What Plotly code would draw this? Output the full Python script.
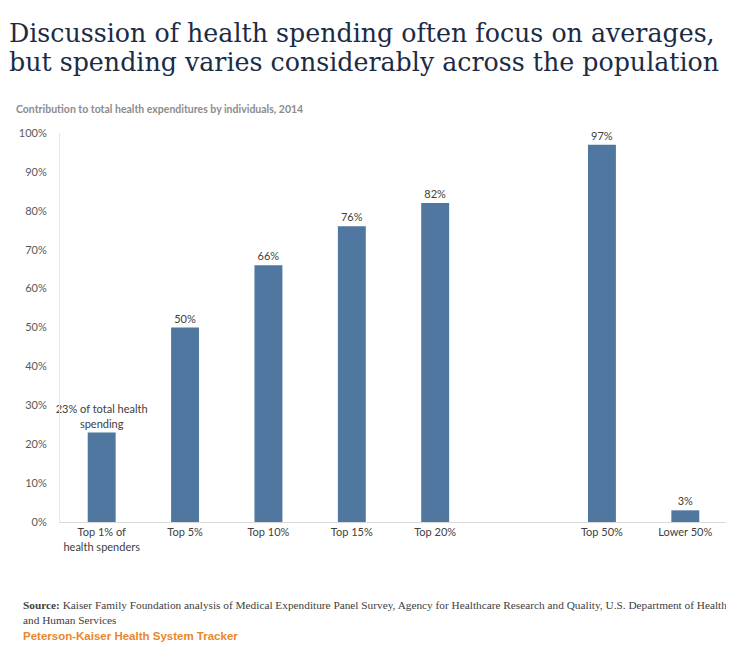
import plotly.graph_objects as go

categories = ["Top 1% of<br>health spenders", "Top 5%", "Top 10%", "Top 15%", "Top 20%", " ", "Top 50%", "Lower 50%"]
values = [23, 50, 66, 76, 82, None, 97, 3]
labels = ["23% of total health<br>spending", "50%", "66%", "76%", "82%", "", "97%", "3%"]

title_lines = ["Discussion of health spending often focus on averages,",
               "but spending varies considerably across the population"]
subtitle_text = "Contribution to total health expenditures by individuals, 2014"
source_text = ("<b>Source:</b> Kaiser Family Foundation analysis of Medical Expenditure Panel Survey, Agency for Healthcare Research and Quality, U.S. Department of Health<br>"
               "and Human Services")
brand_text = "Peterson-Kaiser Health System Tracker"
yticks = [0, 10, 20, 30, 40, 50, 60, 70, 80, 90, 100]

# page offset (body margin) and plot geometry in page pixels
OFF = 8
PL, PR, PT, PB = 60, 727, 133, 522


def px(x):
    return (x - PL) / (PR - PL)


def py(y):
    return (PB - y) / (PB - PT)


fig = go.Figure(go.Bar(
    x=categories, y=values, text=labels, textposition="outside",
    constraintext="none", cliponaxis=False,
    marker=dict(color="#4f77a0", line=dict(width=0)),
    textfont=dict(family="Lato, Open Sans, sans-serif", size=11, color="#404040"),
    hoverinfo="skip",
))

ann = [
    dict(text=title_lines[0], x=px(7), y=py(17), font=dict(family="DejaVu Serif", size=25.3, color="#1c2b45")),
    dict(text=title_lines[1], x=px(7), y=py(46), font=dict(family="DejaVu Serif", size=25.3, color="#1c2b45")),
    dict(text="<b>" + subtitle_text + "</b>", x=px(14), y=py(101),
         font=dict(family="Lato, sans-serif", size=10.5, color="#8c8c8c")),
    dict(text=source_text, x=px(21), y=py(597),
         font=dict(family="Liberation Serif", size=11.3, color="#404040")),
    dict(text="<b>" + brand_text + "</b>", x=px(21), y=py(628),
         font=dict(family="Liberation Sans, Arial", size=11.5, color="#e8862e")),
]
for a in ann:
    a.update(xref="paper", yref="paper", xanchor="left", yanchor="top",
             showarrow=False, align="left")

fig.update_layout(
    width=734 - OFF, height=650 - OFF,
    margin=dict(l=PL - OFF, r=734 - PR, t=PT - OFF, b=650 - PB),
    paper_bgcolor="white", plot_bgcolor="white",
    bargap=0.665, showlegend=False,
    font=dict(family="Lato, Open Sans, sans-serif", size=11, color="#595959"),
    xaxis=dict(type="category", categoryorder="array", categoryarray=categories,
               showline=True, linecolor="#d9d9d9", linewidth=1, ticks="",
               showgrid=False, tickfont=dict(size=11, color="#404040")),
    yaxis=dict(range=[0, 100], tickvals=yticks, ticktext=[f"{t}%" for t in yticks],
               showline=True, linecolor="#e6e6e6", linewidth=1, showgrid=False,
               zeroline=False, ticks="", ticklabelstandoff=10,
               tickfont=dict(size=11, color="#595959")),
    annotations=ann,
)

fig.write_html("out.html")
